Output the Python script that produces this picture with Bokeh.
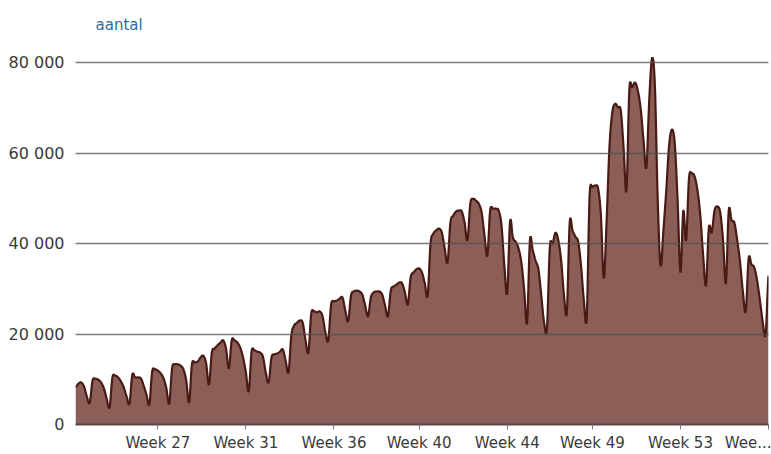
import numpy as np
from datetime import date
from bokeh.plotting import figure
from bokeh.models import Range1d, FixedTicker
from bokeh.embed import file_html
from bokeh.resources import INLINE

# ---- data -------------------------------------------------------------
start_date = "2020-06-02"
aantal = [
    8200, 9000, 9300, 8400, 6200, 4800,
    9700, 10100, 9900, 9300, 8000, 5700, 3800,
    10400, 10800, 10400, 9500, 8200, 6200, 4600,
    11000, 10400, 10400, 10200, 8600, 6600, 4400,
    11700, 12200, 11900, 11300, 10200, 8000, 4600,
    12400, 13300, 13300, 13000, 12200, 9700, 4900,
    13300, 13700, 13900, 14800, 15200, 13500, 8800,
    15900, 16800, 17500, 18100, 18600, 16800, 12400,
    18600, 18600, 18100, 17000, 14800, 11500, 7300,
    16100, 16400, 16100, 15900, 15000, 11500, 9300,
    14800, 15500, 15700, 16100, 16600, 14100, 11500,
    19700, 21900, 22500, 23000, 22500, 18600, 15900,
    24500, 25000, 24800, 25000, 23900, 20300, 18600,
    26500, 27200, 27400, 27800, 28100, 25200, 22800,
    28500, 29400, 29600, 29400, 28700, 26300, 23900,
    28100, 29200, 29400, 29400, 28700, 26300, 23900,
    29600, 30500, 30900, 31400, 31200, 29200, 26500,
    32500, 33600, 34300, 34500, 33600, 31200, 28500,
    40000, 42200, 42900, 43300, 42400, 38900, 35800,
    44600, 46200, 47100, 47300, 47100, 44600, 40700,
    48800, 49900, 49500, 48800, 46900, 41800, 37300,
    47300, 47700, 47700, 47300, 44000, 35100, 29000,
    44900, 41300, 40400, 38900, 35800, 29600, 22500,
    40700, 38500, 36200, 34300, 28500, 22500, 21200,
    39100, 40000, 42400, 40700, 36200, 28500, 24800,
    44600, 42900, 41500, 40400, 35100, 27400, 23600,
    50400, 52400, 52800, 52200, 46200, 32300, 45000,
    61300, 69000, 70900, 70100, 69400, 61000, 51700,
    74000, 74500, 75600, 73800, 69800, 62800, 56800,
    71600, 81000, 74900, 49500, 35100, 42900, 51700,
    61700, 65200, 62100, 49500, 33600, 47300, 40700,
    54400, 55500, 54800, 51700, 46200, 37300, 30700,
    43500, 42400, 47300, 48200, 46900, 40700, 31200,
    47300, 45100, 44600, 40700, 35800, 29200, 25000,
    36700, 35400, 34700, 31800, 27400, 22500, 19900, 32900,
]
tick_dates = ["2020-07-01", "2020-08-01", "2020-09-01", "2020-10-01",
              "2020-11-01", "2020-12-01", "2021-01-01", "2021-02-01"]
tick_labels = ["Week 27", "Week 31", "Week 36", "Week 40",
               "Week 44", "Week 49", "Week 53", "Wee..."]
y_ticks = [0, 20000, 40000, 60000, 80000]
y_tick_labels = ["0", "20 000", "40 000", "60 000", "80 000"]
title_text = "aantal"

# ---- helpers ----------------------------------------------------------
d0 = date.fromisoformat(start_date)
tick_pos = [(date.fromisoformat(d) - d0).days for d in tick_dates]

def catmull(y, n=8):
    y = np.asarray(y, dtype=float)
    N = len(y)
    xs, ys = [], []
    t = np.linspace(0, 1, n, endpoint=False)
    for k in range(N - 1):
        p0 = y[max(k - 1, 0)]
        p1 = y[k]
        p2 = y[k + 1]
        p3 = y[min(k + 2, N - 1)]
        seg = 0.5 * (2 * p1 + (-p0 + p2) * t
                     + (2 * p0 - 5 * p1 + 4 * p2 - p3) * t ** 2
                     + (-p0 + 3 * p1 - 3 * p2 + p3) * t ** 3)
        xs.extend(k + t)
        ys.extend(seg)
    xs.append(N - 1)
    ys.append(y[-1])
    return np.array(xs), np.clip(np.array(ys), 0, None)

sx, sy = catmull(aantal)

FONT = "DejaVu Sans"

p = figure(width=771, height=454, output_backend="svg", toolbar_location=None,
           x_range=Range1d(0, len(aantal) - 1), y_range=Range1d(0, 84900),
           min_border_left=75, min_border_right=3, min_border_top=40,
           min_border_bottom=30, outline_line_color=None,
           background_fill_color="white", border_fill_color="white")

p.varea(x=sx, y1=0, y2=sy, fill_color="#8b5e58", fill_alpha=1.0)
p.line(sx, sy, line_color="#4a1a15", line_width=2.2)

p.title.text = title_text
p.title.text_font = FONT
p.title.text_font_size = "15px"
p.title.text_font_style = "normal"
p.title.text_color = "#336b94"
p.title.offset = 20
p.title.standoff = 13

p.xgrid.visible = False
p.ygrid.ticker = FixedTicker(ticks=y_ticks)
p.ygrid.grid_line_color = "#505050"
p.ygrid.grid_line_alpha = 0.75
p.ygrid.grid_line_width = 1.5
p.ygrid.level = "annotation"

p.yaxis.ticker = FixedTicker(ticks=y_ticks)
p.yaxis.major_label_overrides = {t: l for t, l in zip(y_ticks, y_tick_labels)}
p.yaxis.axis_line_color = None
p.yaxis.major_tick_line_color = None
p.yaxis.minor_tick_line_color = None
p.yaxis.major_label_standoff = 5
p.yaxis.major_label_text_font = FONT
p.yaxis.major_label_text_font_size = "16px"
p.yaxis.major_label_text_color = "#3a3a3a"

p.xaxis.ticker = FixedTicker(ticks=tick_pos)
p.xaxis.major_label_overrides = {t: l for t, l in zip(tick_pos, tick_labels)}
p.xaxis.axis_line_color = "#5a4642"
p.xaxis.axis_line_width = 2
p.xaxis.major_tick_line_color = "#777777"
p.xaxis.major_tick_out = 5
p.xaxis.major_tick_in = 0
p.xaxis.minor_tick_line_color = None
p.xaxis.major_label_standoff = 4
p.xaxis.major_label_text_font = FONT
p.xaxis.major_label_text_font_size = "15px"
p.xaxis.major_label_text_color = "#3a3a3a"

open("out.html", "w").write(file_html(p, INLINE))
